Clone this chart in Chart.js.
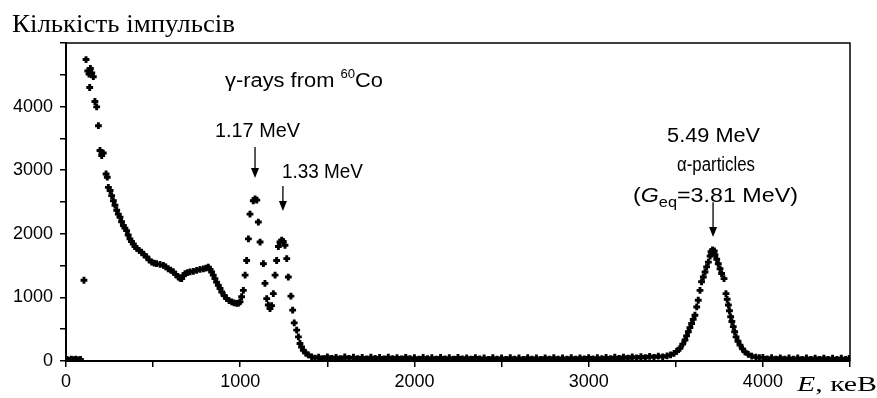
<!DOCTYPE html>
<html>
<head>
<meta charset="utf-8">
<script src="https://cdn.jsdelivr.net/npm/chart.js@4.4.1/dist/chart.umd.min.js"></script>
<style>
  html, body { margin: 0; padding: 0; background: #fff; }
</style>
</head>
<body>
<canvas id="chart" width="877" height="398"></canvas>
<script>
// energy (keV) / counts, region by region
const lowE = [5, 18, 31, 44, 57, 70, 83, 103];
const lowC = [25, 15, 30, 20, 28, 18, 25, 1270];

const comptonE = [
  115, 125, 132, 136, 140, 148, 157, 166, 176, 186,
  195, 205, 214, 230, 237, 243, 253, 262, 272, 281,
  291, 300, 310, 319, 329, 338, 348, 357, 367, 376,
  386, 396, 406, 420, 434, 448, 463, 477, 492, 506,
  520, 540, 559, 573, 587, 601, 616, 630, 645, 655,
  664, 674, 683, 697, 712, 731, 750, 769, 788, 803,
  817, 827, 836, 845, 855, 864, 874, 884, 894, 908,
  922, 936, 951, 965, 980, 990, 999
];
const comptonC = [
  4740, 4560, 4510, 4300, 4600, 4530, 4470, 4080, 3995, 3700,
  3310, 3230, 3270, 2940, 2890, 2730, 2680, 2600, 2520, 2450,
  2370, 2310, 2260, 2190, 2130, 2090, 2050, 1980, 1920, 1880,
  1840, 1800, 1770, 1740, 1710, 1670, 1635, 1590, 1555, 1540,
  1530, 1520, 1505, 1480, 1450, 1430, 1400, 1360, 1320, 1300,
  1295, 1340, 1375, 1390, 1400, 1410, 1425, 1440, 1450, 1460,
  1475, 1440, 1400, 1350, 1295, 1240, 1190, 1140, 1085, 1030,
  980, 950, 930, 915, 905, 910, 930
];

// 60Co lines 1.17 / 1.33 MeV
const cobaltE = [
  1008, 1018, 1028, 1037, 1047, 1056, 1075, 1085, 1095, 1104,
  1114, 1133, 1142, 1152, 1161, 1171, 1180, 1190, 1200, 1209,
  1219, 1228, 1238, 1247, 1257, 1267, 1276, 1291, 1301, 1310,
  1324, 1334, 1343, 1352, 1362, 1376, 1391, 1410, 1429
];
const cobaltC = [
  1010, 1110, 1350, 1580, 1920, 2310, 2520, 2550, 2530, 2185,
  1870, 1530, 1220, 980, 880, 825, 870, 1060, 1350, 1580,
  1800, 1870, 1900, 1880, 1820, 1610, 1320, 1020, 800, 600,
  485, 380, 275, 220, 170, 125, 95, 65, 45
];

const flatE = [
  1450, 1475, 1500, 1525, 1550, 1575, 1600, 1625, 1650, 1675,
  1700, 1725, 1750, 1775, 1800, 1825, 1850, 1875, 1900, 1925,
  1950, 1975, 2000, 2025, 2050, 2075, 2100, 2125, 2150, 2175,
  2200, 2225, 2250, 2275, 2300, 2325, 2350, 2375, 2400, 2425,
  2450, 2475, 2500, 2525, 2550, 2575, 2600, 2625, 2650, 2675,
  2700, 2725, 2750, 2775, 2800, 2825, 2850, 2875, 2900, 2925,
  2950, 2975, 3000, 3025, 3050, 3075, 3100, 3125, 3150, 3175,
  3200, 3225, 3250, 3275, 3300, 3325, 3350, 3375, 3400, 3425
];
const flatC = [
  62, 38, 66, 40, 58, 35, 64, 42, 60, 36,
  57, 34, 61, 39, 55, 33, 59, 37, 54, 32,
  58, 36, 53, 31, 57, 35, 52, 30, 56, 34,
  51, 29, 55, 33, 50, 28, 54, 32, 49, 27,
  53, 31, 48, 27, 52, 30, 48, 26, 51, 29,
  47, 27, 50, 28, 52, 29, 47, 30, 53, 31,
  50, 33, 54, 34, 52, 36, 57, 38, 59, 40,
  62, 44, 66, 47, 70, 52, 74, 58, 78, 64
];

// alpha peak
const alphaE = [
  3450, 3470, 3490, 3505, 3524, 3540, 3553, 3562, 3572, 3581,
  3591, 3600, 3610, 3620, 3629, 3639, 3648, 3658, 3668, 3677,
  3687, 3697, 3702, 3706, 3711, 3716, 3721, 3725, 3735, 3744,
  3754, 3763, 3777, 3788, 3795, 3802, 3808, 3815, 3822, 3830,
  3838, 3846, 3857, 3869, 3883, 3897, 3916, 3936, 3960, 3980
];
const alphaC = [
  82, 95, 120, 150, 200, 265, 330, 395, 460, 525,
  590, 655, 720, 850, 955, 1110, 1245, 1320, 1400, 1480,
  1555, 1650, 1720, 1690, 1745, 1710, 1730, 1670, 1600, 1530,
  1450, 1375, 1295, 1060, 970, 880, 790, 695, 620, 540,
  460, 380, 310, 250, 190, 145, 105, 78, 60, 52
];

const tailE = [
  4000, 4025, 4050, 4075, 4100, 4125, 4150, 4175, 4200, 4225,
  4250, 4275, 4300, 4325, 4350, 4375, 4400, 4425, 4450, 4475, 4495
];
const tailC = [
  55, 32, 52, 30, 50, 29, 49, 28, 48, 27,
  47, 27, 46, 26, 46, 26, 45, 25, 45, 25, 40
];

const xLabels = [0, 1000, 2000, 3000, 4000];
const yLabels = [0, 1000, 2000, 3000, 4000];

// annotations: text centre (keV) and baseline (counts), arrows in data units
const notes = [
  { e: 1366, c: 4308, w: 158, runs: [['γ-rays from ', 0], ['60', 1], ['Co', 0]] },
  { e: 1099, c: 3522, w: 85, runs: [['1.17 MeV', 0]] },
  { e: 1472, c: 2877, w: 81, runs: [['1.33 MeV', 0]] },
  { e: 3717, c: 3443, w: 93, runs: [['5.49 MeV', 0]] },
  { e: 3731, c: 2987, w: 78, runs: [['α-particles', 0]] },
  { e: 3728, c: 2500, w: 165, runs: [['(', 0], ['G', 3], ['eq', 2], ['=3.81 MeV)', 0]] }
];
const arrows = [
  { e: 1085, top: 3365, tip: 2877 },
  { e: 1245, top: 2752, tip: 2358 },
  { e: 3714, top: 2498, tip: 1950 }
];

const points = [];
[[lowE, lowC], [comptonE, comptonC], [cobaltE, cobaltC], [flatE, flatC], [alphaE, alphaC], [tailE, tailC]]
  .forEach(([es, cs]) => es.forEach((e, i) => points.push({ x: e, y: cs[i] })));

const SANS = '"Liberation Sans", Arial, sans-serif';
const SERIF = '"Liberation Serif", "Times New Roman", serif';

// run kinds: 0 normal, 1 superscript, 2 subscript, 3 italic
function runFont(kind) {
  if (kind === 1) return '12px ' + SANS;
  if (kind === 2) return '14px ' + SANS;
  if (kind === 3) return 'italic 20px ' + SANS;
  return '20px ' + SANS;
}
function runDy(kind) {
  if (kind === 1) return -9;
  if (kind === 2) return 5;
  return 0;
}

// draws runs left to right, squeezed/stretched to the width seen in the picture
function drawRuns(ctx, runs, cx, baseY, width) {
  let natural = 0;
  const sized = runs.map(r => {
    ctx.font = r.font;
    const w = ctx.measureText(r.text).width;
    natural += w;
    return Object.assign({ w }, r);
  });
  const k = width ? width / natural : 1;
  ctx.save();
  ctx.translate(cx - natural * k / 2, baseY);
  ctx.scale(k, 1);
  ctx.textAlign = 'left';
  ctx.textBaseline = 'alphabetic';
  let x = 0;
  sized.forEach(r => {
    ctx.font = r.font;
    ctx.fillText(r.text, x, r.dy || 0);
    x += r.w;
  });
  ctx.restore();
}

const extras = {
  id: 'extras',
  afterDraw(chart) {
    const { ctx, chartArea: a, scales } = chart;
    ctx.save();
    ctx.fillStyle = '#000';
    ctx.strokeStyle = '#000';

    // top and right frame
    ctx.lineWidth = 1.5;
    ctx.beginPath();
    ctx.moveTo(a.left, a.top);
    ctx.lineTo(a.right, a.top);
    ctx.lineTo(a.right, a.bottom);
    ctx.stroke();

    // arrows
    arrows.forEach(ar => {
      const x = scales.x.getPixelForValue(ar.e);
      const y1 = scales.y.getPixelForValue(ar.top);
      const y2 = scales.y.getPixelForValue(ar.tip);
      ctx.lineWidth = 1.3;
      ctx.beginPath();
      ctx.moveTo(x, y1);
      ctx.lineTo(x, y2 - 8);
      ctx.stroke();
      ctx.beginPath();
      ctx.moveTo(x - 4, y2 - 10);
      ctx.lineTo(x + 4, y2 - 10);
      ctx.lineTo(x, y2);
      ctx.closePath();
      ctx.fill();
    });

    // labels
    notes.forEach(n => {
      const runs = n.runs.map(([text, kind]) => ({ text, font: runFont(kind), dy: runDy(kind) }));
      drawRuns(ctx, runs, scales.x.getPixelForValue(n.e), scales.y.getPixelForValue(n.c), n.w);
    });

    // axis titles
    drawRuns(ctx, [{ text: 'Кількість імпульсів', font: '25px ' + SERIF }], 123.5, 32, 223);
    drawRuns(ctx, [
      { text: 'E', font: 'italic 21px ' + SERIF },
      { text: ', кеВ', font: '21px ' + SERIF }
    ], 837, 391, 80);
    ctx.restore();
  }
};

const tickFont = { family: SANS, size: 18 };

new Chart(document.getElementById('chart').getContext('2d'), {
  type: 'scatter',
  data: {
    datasets: [{
      data: points,
      pointStyle: 'cross',
      pointRadius: 3.4,
      pointHoverRadius: 3.4,
      borderWidth: 2.9,
      borderColor: '#000',
      backgroundColor: '#000'
    }]
  },
  options: {
    responsive: false,
    animation: false,
    devicePixelRatio: 1,
    layout: { padding: { left: 0, right: 27, top: 43, bottom: 0 } },
    plugins: { legend: { display: false }, tooltip: { enabled: false } },
    scales: {
      x: {
        type: 'linear',
        min: 0,
        max: 4500,
        afterFit: s => { s.height = 37; },
        ticks: {
          stepSize: 500,
          autoSkip: false,
          maxRotation: 0,
          padding: 4,
          color: '#000',
          font: tickFont,
          callback: v => xLabels.includes(v) ? String(v) : ''
        },
        grid: { drawOnChartArea: false, drawTicks: true, tickLength: 6, color: '#000', lineWidth: 1.5 },
        border: { display: true, color: '#000', width: 2 }
      },
      y: {
        type: 'linear',
        min: 0,
        max: 5000,
        afterFit: s => { s.width = 66; },
        ticks: {
          stepSize: 500,
          autoSkip: false,
          padding: 7,
          color: '#000',
          font: tickFont,
          callback: v => yLabels.includes(v) ? String(v) : ''
        },
        grid: { drawOnChartArea: false, drawTicks: true, tickLength: 6, color: '#000', lineWidth: 1.5 },
        border: { display: true, color: '#000', width: 2 }
      }
    }
  },
  plugins: [extras]
});
</script>
</body>
</html>
